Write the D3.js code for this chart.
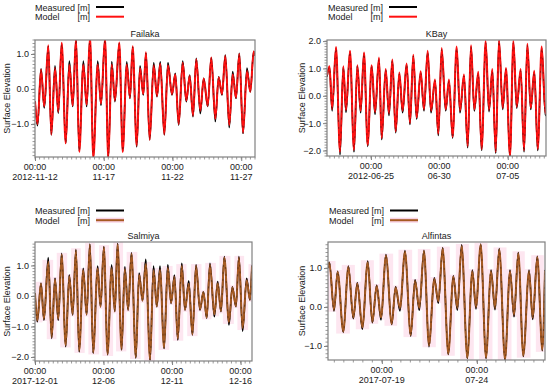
<!DOCTYPE html>
<html><head><meta charset="utf-8">
<script src="https://cdn.jsdelivr.net/npm/d3@7/dist/d3.min.js"></script>
<style>
html,body{margin:0;padding:0;background:#fff;}
svg text{font-family:"Liberation Sans",Arial,sans-serif;font-size:9px;fill:#1a1a1a;}
</style></head>
<body><svg id="c" width="550" height="388"></svg>
<script>
// ---------- DATA ----------
// Failaka (start 2012-11-12 00:00), hours since start of tidal extremes
const failakaHours = [0,4.4,10.5,16.2,23.2,28.5,34.9,40.7,46.6,53.6,59.9,65.8,71.6,77.3,84.3,90.2,96,101.8,109.4,115.2,122.2,127.9,133.9,139.6,147.1,153.1,160.1,165.8,170.5,177.5,183.3,189,193.7,200.2,207.2,212.9,218.7,225.7,232.1,239.1,244.9,250.8,257.8,264.1,270,275.8,281.5,288.5,294.5,301.4,307.7,314.7,320.6,326.4,332.2,339.1,345.1,350.8,356.6,363.1,370,375.8,381.7,384];
const failakaMeasured = [-0.35,-1.05,0.58,-0.54,1.22,-1.31,0.66,-0.69,1.3,-1.55,0.8,-0.5,1.42,-1.78,0.8,-0.5,1.45,-1.95,0.8,-0.46,1.42,-1.95,0.78,-0.36,1.3,-1.78,0.78,-0.27,1.2,-1.65,0.66,-0.17,1.02,-1.45,0.75,-0.22,0.78,-1.31,0.75,-0.17,0.45,-1.03,0.8,-0.36,0.4,-0.79,0.88,-0.7,0.31,-0.5,0.9,-0.93,0.35,-0.17,0.97,-1.1,0.5,-0.27,1.02,-1.27,0.6,-0.08,1.07,0.95];
const failakaModel    = [-0.35,-1.0,0.55,-0.5,1.25,-1.3,0.6,-0.65,1.32,-1.55,0.7,-0.48,1.45,-1.8,0.7,-0.45,1.5,-1.98,0.7,-0.42,1.45,-1.98,0.7,-0.33,1.33,-1.8,0.7,-0.25,1.22,-1.62,0.6,-0.15,1.05,-1.45,0.68,-0.2,0.72,-1.3,0.68,-0.15,0.42,-1.0,0.75,-0.33,0.38,-0.76,0.85,-0.62,0.3,-0.48,0.9,-0.85,0.33,-0.15,0.95,-1.03,0.42,-0.25,1.0,-1.25,0.52,-0.08,1.07,0.95];

// KBay (start 2012-06-21 19:00)
const kbayHours = [0,4.4,9,15.8,22.8,28.6,33.3,40.3,47.3,53.2,59,64.9,71.3,78.3,84.2,91.2,95.9,102.9,108.7,114.6,120.4,126.8,132.6,139.6,145.5,151.3,157.2,164.2,170.1,176.5,182.4,189.4,195.2,201.1,208.1,213.9,220.3,227.3,233.2,240.2,246.7,252.5,258.3,265.3,271.2,278.2,284,289.9,295.8,301.6,308.1,313.9,320.9,326.8,332.6,339.6,345.5,351.3,357.2,363.5,369.5,376.5,383,384];
const kbayMeasured = [0.7,1.05,-0.55,1.75,-2.15,1.05,-0.6,1.62,-2.05,1.1,-0.62,1.55,-1.85,1.1,-0.68,1.35,-1.6,0.95,-0.72,1.3,-1.35,0.8,-0.62,1.15,-1.05,1.45,-0.85,0.85,-0.55,1.6,-0.62,0.55,-1.45,1.7,-0.55,0.55,-1.55,1.75,-0.62,0.72,-1.9,1.8,-0.55,0.82,-2.0,1.95,-0.58,0.92,-2.1,2.0,-0.5,0.98,-2.25,1.95,-0.45,0.92,-2.05,1.85,-0.5,0.88,-2.0,1.75,-0.72,-0.65];
const kbayModel    = [0.75,1.08,-0.48,1.78,-2.05,1.08,-0.52,1.65,-1.98,1.12,-0.55,1.58,-1.8,1.12,-0.6,1.4,-1.55,0.98,-0.65,1.33,-1.3,0.85,-0.55,1.18,-1.0,1.5,-0.8,0.9,-0.5,1.65,-0.55,0.6,-1.4,1.75,-0.5,0.6,-1.5,1.8,-0.55,0.78,-1.85,1.85,-0.5,0.88,-1.95,2.0,-0.52,0.98,-2.05,2.05,-0.45,1.02,-2.2,2.0,-0.4,0.98,-2.0,1.9,-0.45,0.92,-1.95,1.8,-0.65,-0.6];

// Salmiya (start 2017-12-01 00:00)
const salmiyaHours = [0,4,10.5,15.7,23.2,29.2,35,40.7,46.7,53.7,60,65.9,71.7,77.4,84.4,90.4,96.1,101.9,109.6,114.8,120.6,127.1,134.1,139.8,144.6,151.6,157.3,163.1,169,176.5,182.3,188.3,194,201.5,207.5,213.3,219,226,232.5,238.3,244.2,250,257,262.7,269.2,275.7,282,288.9,294.9,300.7,306.4,314.1,319.9,325.7,331.6,339.6,345.6,351.9,357.1,363.6,370.6,376.4,380];
const salmiyaMeasured = [0.1,-0.84,0.42,-0.79,1.26,-1.39,0.58,-0.79,1.4,-1.66,0.69,-0.62,1.52,-1.83,0.91,-0.62,1.7,-1.88,0.98,-0.35,1.62,-1.93,1.02,-0.51,1.72,-1.77,0.96,-0.46,1.42,-2.04,0.75,-0.15,1.2,-2.1,0.98,-0.35,0.98,-1.72,1.02,-0.24,0.69,-1.44,1.07,-0.46,0.5,-1.28,1.02,-0.46,0.14,-0.73,1.07,-0.68,0.47,-0.51,1.29,-0.95,0.3,-0.35,1.29,-1.15,0.58,-0.13,1.0];
const salmiyaModel    = [0.1,-0.8,0.4,-0.75,1.12,-1.35,0.55,-0.75,1.35,-1.62,0.65,-0.6,1.5,-1.8,0.85,-0.6,1.68,-1.85,0.9,-0.35,1.6,-1.9,0.92,-0.5,1.7,-1.75,0.88,-0.45,1.38,-2.0,0.7,-0.15,1.05,-2.08,0.85,-0.33,0.85,-1.7,0.92,-0.22,0.62,-1.4,0.98,-0.45,0.4,-1.25,0.98,-0.44,0.12,-0.7,1.02,-0.6,0.42,-0.5,1.25,-0.85,0.28,-0.33,1.25,-1.05,0.52,-0.12,0.98];

// Alfintas (start 2017-07-16 04:00)
const alfintasHours = [0,1.7,7.6,12.2,19.3,25.7,32,37,43.4,50.1,56,61.5,66.9,73.2,80.4,85.4,90.9,97.2,104.4,109.9,115.3,121.2,127.5,134.2,139.3,144.8,151.9,158.2,163.3,168.8,175.9,182.2,186.9,192.8,199.5,205.8,210.9,216.3,223.5,229.8,234.9,240.3,246.6,253.8,258.5,264.3,270.6,274];
const alfintasMeasured = [1.0,1.15,-0.1,0.92,-0.65,1.05,-0.3,0.62,-0.57,1.18,-0.4,0.56,-0.33,1.35,-0.45,0.52,-0.1,1.45,-0.75,0.7,-0.08,1.46,-1.02,0.75,0.1,1.52,-1.22,0.8,-0.08,1.6,-1.32,0.95,-0.05,1.62,-1.32,0.95,-0.07,1.5,-1.37,0.95,-0.25,1.4,-1.27,0.95,-0.32,1.3,-1.12,0.95];
const alfintasModel    = [1.0,1.13,-0.07,0.9,-0.63,1.03,-0.27,0.6,-0.52,1.15,-0.38,0.54,-0.27,1.32,-0.43,0.5,-0.03,1.42,-0.72,0.67,-0.02,1.44,-0.98,0.72,0.15,1.5,-1.2,0.78,-0.02,1.57,-1.3,0.92,0.0,1.6,-1.3,0.92,-0.02,1.48,-1.35,0.92,-0.2,1.38,-1.25,0.92,-0.27,1.28,-1.1,0.93];

const failakaTicks = ["2012-11-12","2012-11-17","2012-11-22","2012-11-27"];
const failakaTickLabels = ["2012-11-12","11-17","11-22","11-27"];
const kbayTicks = ["2012-06-25","2012-06-30","2012-07-05"];
const kbayTickLabels = ["2012-06-25","06-30","07-05"];
const salmiyaTicks = ["2017-12-01","2017-12-06","2017-12-11","2017-12-16"];
const salmiyaTickLabels = ["2017-12-01","12-06","12-11","12-16"];
const alfintasTicks = ["2017-07-19","2017-07-24"];
const alfintasTickLabels = ["2017-07-19","07-24"];

const failakaY = [1.0,0.0,-1.0];
const kbayY = [2.0,1.0,0.0,-1.0,-2.0];
const salmiyaY = [1.0,0.0,-1.0,-2.0];
const alfintasY = [1.0,0.0,-1.0];

const seriesNames = ["Measured","Model"];
const unitLabel = "[m]";
const yTitle = "Surface Elevation";

// ---------- LAYOUT ----------
const panels = [
  {title:"Failaka", start:"2012-11-12T00:00Z", span:384, hours:failakaHours, meas:failakaMeasured, model:failakaModel,
   ydom:[-1.94,1.4], yt:failakaY, xt:failakaTicks, xl:failakaTickLabels, x0:35, x1:255, y0:40, y1:157, top:0, modelColor:"#ff1010", pink:false, minorH:8},
  {title:"KBay", start:"2012-06-21T19:00Z", span:384, hours:kbayHours, meas:kbayMeasured, model:kbayModel,
   ydom:[-2.2,2.04], yt:kbayY, xt:kbayTicks, xl:kbayTickLabels, x0:327, x1:546, y0:40, y1:156, top:0, modelColor:"#ff1010", pink:false, minorH:8},
  {title:"Salmiya", start:"2017-12-01T00:00Z", span:380, hours:salmiyaHours, meas:salmiyaMeasured, model:salmiyaModel,
   ydom:[-2.13,1.77], yt:salmiyaY, xt:salmiyaTicks, xl:salmiyaTickLabels, x0:35, x1:252, y0:242, y1:361, top:9.5, modelColor:"#a65a22", pink:true, minorH:8},
  {title:"Alfintas", start:"2017-07-16T04:00Z", span:274, hours:alfintasHours, meas:alfintasMeasured, model:alfintasModel,
   ydom:[-1.36,1.67], yt:alfintasY, xt:alfintasTicks, xl:alfintasTickLabels, x0:328, x1:545, y0:242, y1:360, top:9.5, modelColor:"#a65a22", pink:true, minorH:12}
];

const svg = d3.select("#c");
const HOUR = 3600*1000;

panels.forEach((p,i)=>{
  const t0 = new Date(p.start);
  const t1 = new Date(t0.getTime()+p.span*HOUR);
  const x = d3.scaleUtc().domain([t0,t1]).range([p.x0,p.x1]);
  const y = d3.scaleLinear().domain(p.ydom).range([p.y1,p.y0]);
  const g = svg.append("g");
  const legTop = (i<2?0:194) + p.top;
  const lx = p.x0 + (i%2===1 ? 1 : 0);

  // legend
  seriesNames.forEach((nm,k)=>{
    const by = legTop + 10.5 + k*9.7;
    g.append("text").attr("x",lx).attr("y",by).text(nm);
    g.append("text").attr("x",lx+42.5).attr("y",by).text(unitLabel);
    const ly = by-3.5;
    if(k===1 && p.pink){
      g.append("line").attr("x1",lx+61).attr("x2",lx+89).attr("y1",ly).attr("y2",ly)
        .attr("stroke","#f9d3e4").attr("stroke-width",5);
    }
    g.append("line").attr("x1",lx+61).attr("x2",lx+89).attr("y1",ly).attr("y2",ly)
      .attr("stroke", k===0?"#000":p.modelColor).attr("stroke-width",2);
  });

  // title
  g.append("text").attr("x",(p.x0+p.x1)/2).attr("y",p.y0-3.5).attr("text-anchor","middle").text(p.title);

  // clip
  const cid = "clip"+i;
  svg.append("clipPath").attr("id",cid).append("rect")
    .attr("x",p.x0).attr("y",p.y0).attr("width",p.x1-p.x0).attr("height",p.y1-p.y0);
  const plot = g.append("g").attr("clip-path",`url(#${cid})`);

  const pts = p.hours.map((h,j)=>({t:new Date(t0.getTime()+h*HOUR), m:p.meas[j], s:p.model[j]}));

  if(p.pink){
    for(let j=0;j<pts.length-1;j++){
      const a=pts[j], b=pts[j+1];
      const lo=Math.min(a.s,b.s), hi=Math.max(a.s,b.s);
      plot.append("rect").attr("x",x(a.t)-1.5).attr("width",x(b.t)-x(a.t)+3)
        .attr("y",y(hi)-2).attr("height",y(lo)-y(hi)+4).attr("fill","#fde6f0");
    }
  }

  const lineM = d3.line().x(d=>x(d.t)).y(d=>y(d.m)).curve(d3.curveMonotoneX);
  const lineS = d3.line().x(d=>x(d.t)).y(d=>y(d.s)).curve(d3.curveMonotoneX);
  plot.append("path").attr("d",lineM(pts)).attr("fill","none").attr("stroke","#000").attr("stroke-width",1.6);
  plot.append("path").attr("d",lineS(pts)).attr("fill","none").attr("stroke",p.modelColor).attr("stroke-width",2.0);
  plot.append("path").attr("d",lineM(pts)).attr("fill","none").attr("stroke","#000").attr("stroke-width",0.8)
    .attr("stroke-dasharray","2,5").attr("opacity",0.45);

  // frame
  g.append("rect").attr("x",p.x0).attr("y",p.y0).attr("width",p.x1-p.x0).attr("height",p.y1-p.y0)
    .attr("fill","none").attr("stroke","#808080").attr("stroke-width",1.2);

  // y minor ticks
  const ymin = d3.range(Math.ceil(p.ydom[0]*10), Math.floor(p.ydom[1]*10)+1).map(v=>v/10);
  g.selectAll(null).data(ymin).enter().append("line")
    .attr("x1",p.x0-2.5).attr("x2",p.x0).attr("y1",d=>y(d)).attr("y2",d=>y(d))
    .attr("stroke","#808080").attr("stroke-width",0.8);
  // y labels via axis
  const ya = d3.axisLeft(y).tickValues(p.yt).tickFormat(d3.format(".1f")).tickSize(4).tickPadding(2);
  const yg = g.append("g").attr("transform",`translate(${p.x0},0)`).call(ya);
  yg.select(".domain").remove();
  yg.selectAll(".tick line").attr("stroke","#808080");
  yg.selectAll(".tick text").attr("font-size",null).attr("font-family",null).style("font-size","9px");

  // x minor ticks
  const xmin = d3.utcHour.every(p.minorH).range(t0, new Date(t1.getTime()+1));
  g.selectAll(null).data(xmin).enter().append("line")
    .attr("x1",d=>x(d)).attr("x2",d=>x(d)).attr("y1",p.y1).attr("y2",p.y1+2.5)
    .attr("stroke","#808080").attr("stroke-width",0.8);
  // x major ticks/labels
  const xdates = p.xt.map(s=>new Date(s+"T00:00Z"));
  const xa = d3.axisBottom(x).tickValues(xdates).tickSize(4).tickFormat(()=>"");
  const xg = g.append("g").attr("transform",`translate(0,${p.y1})`).call(xa);
  xg.select(".domain").remove();
  xg.selectAll(".tick line").attr("stroke","#808080");
  xdates.forEach((d,k)=>{
    g.append("text").attr("x",x(d)).attr("y",p.y1+13.3).attr("text-anchor","middle").text(d3.utcFormat("%H:%M")(d));
    g.append("text").attr("x",x(d)).attr("y",p.y1+23.3).attr("text-anchor","middle").text(p.xl[k]);
  });

  // y title
  g.append("text").attr("transform",`translate(${i%2===0?7:301.7},${(p.y0+p.y1)/2}) rotate(-90)`)
    .attr("text-anchor","middle").attr("dominant-baseline","central").text(yTitle);
});
</script>
</body></html>
